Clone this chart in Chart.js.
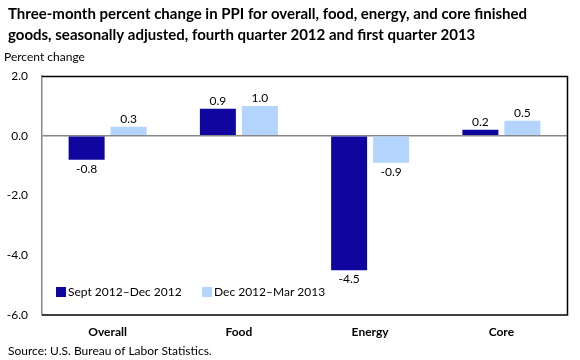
<!DOCTYPE html>
<html><head><meta charset="utf-8">
<script src="https://cdn.jsdelivr.net/npm/chart.js@4"></script>
<style>html,body{margin:0;padding:0;background:#fff}#wrap{width:580px;height:360px;position:relative}</style>
</head><body><div id="wrap"><canvas id="c" width="580" height="360"></canvas></div>
<script>
const categories = ["Overall", "Food", "Energy", "Core"];
const seriesNames = ["Sept 2012\u2013Dec 2012", "Dec 2012\u2013Mar 2013"];
const sept2012Dec2012 = [-0.8, 0.9, -4.5, 0.2];
const dec2012Mar2013 = [0.3, 1.0, -0.9, 0.5];
const yTicks = [2, 0, -2, -4, -6];
const titleLines = ["Three-month percent change in PPI for overall, food, energy, and core finished",
  "goods, seasonally adjusted, fourth quarter 2012 and first quarter 2013"];
const axisTitle = "Percent change";
const sourceText = "Source: U.S. Bureau of Labor Statistics.";

const FONT = "Lato, 'Open Sans', sans-serif";
const colors = ["#10069f", "#b3d4fc"];

const decor = {
  id: 'decor',
  afterDraw(chart) {
    const ctx = chart.ctx, a = chart.chartArea;
    ctx.save();
    // frame
    ctx.strokeStyle = '#000'; ctx.lineWidth = 1.5;
    ctx.beginPath();
    ctx.moveTo(a.left, a.top + 0.5); ctx.lineTo(a.right + 0.5, a.top + 0.5);
    ctx.lineTo(a.right + 0.5, a.bottom); ctx.lineTo(a.left, a.bottom);
    ctx.stroke();
    // title
    ctx.fillStyle = '#000'; ctx.textBaseline = 'middle'; ctx.textAlign = 'left';
    ctx.font = "bold 15px " + FONT;
    ctx.fillText(titleLines[0], 8, 14);
    ctx.fillText(titleLines[1], 8, 35);
    ctx.font = "12px " + FONT;
    ctx.fillText(axisTitle, 4, 57);
    ctx.fillText(sourceText, 8, 351);
    // data labels
    ctx.font = "12px " + FONT; ctx.textAlign = 'center';
    chart.data.datasets.forEach((ds, i) => {
      chart.getDatasetMeta(i).data.forEach((bar, j) => {
        const v = ds.data[j];
        const txt = v.toFixed(1);
        if (v >= 0) { ctx.textBaseline = 'bottom'; ctx.fillText(txt, bar.x, bar.y - 2); }
        else { ctx.textBaseline = 'top'; ctx.fillText(txt, bar.x, bar.y + 3); }
      });
    });
    // legend
    ctx.textAlign = 'left'; ctx.textBaseline = 'middle';
    const lx = [56, 202], ly = 292;
    chart.data.datasets.forEach((ds, i) => {
      ctx.fillStyle = ds.backgroundColor;
      ctx.fillRect(lx[i], ly - 5, 10, 10);
      ctx.fillStyle = '#000';
      ctx.fillText(ds.label, lx[i] + 12, ly);
    });
    ctx.restore();
  }
};

new Chart(document.getElementById('c'), {
  type: 'bar',
  data: {
    labels: categories,
    datasets: [
      { label: seriesNames[0], data: sept2012Dec2012, backgroundColor: colors[0] },
      { label: seriesNames[1], data: dec2012Mar2013, backgroundColor: colors[1] }
    ]
  },
  options: {
    responsive: false, animation: false,
    categoryPercentage: 0.64, barPercentage: 0.857,
    layout: { padding: { top: 76, right: 13, left: 0, bottom: 0 } },
    plugins: { legend: { display: false }, tooltip: { enabled: false }, title: { display: false } },
    scales: {
      x: {
        grid: { display: false, drawTicks: false },
        border: { display: false },
        ticks: { color: '#000', font: { family: FONT, size: 12, weight: 'bold' }, padding: 10 },
        afterFit(s) { s.height = 45; }
      },
      y: {
        min: -6, max: 2,
        afterBuildTicks(s) { s.ticks = yTicks.map(v => ({ value: v })); },
        grid: { drawTicks: false, color: c => (c.tick && c.tick.value === 0) ? '#888' : 'rgba(0,0,0,0)', lineWidth: 1.5 },
        border: { display: true, color: '#888', width: 1.5 },
        ticks: { color: '#000', font: { family: FONT, size: 12 }, padding: 14, callback: v => Number(v).toFixed(1) },
        afterFit(s) { s.width = 42; }
      }
    }
  },
  plugins: [decor]
});
</script></body></html>
